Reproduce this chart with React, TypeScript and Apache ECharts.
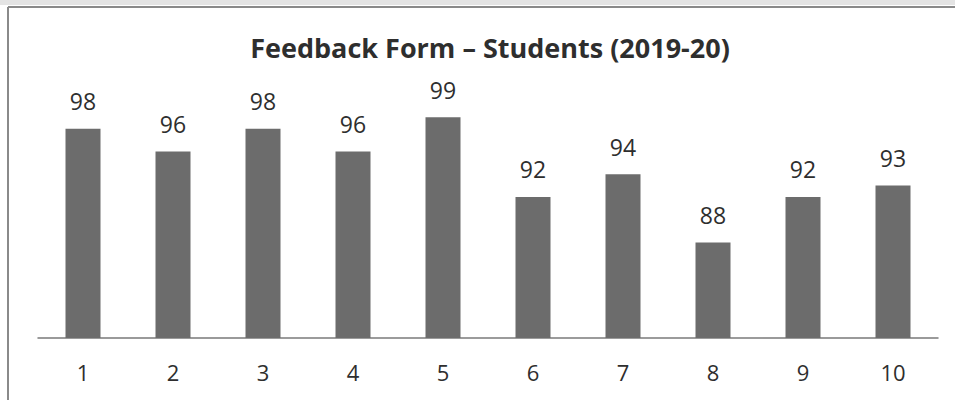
import React, { useEffect, useRef } from "react";
import * as echarts from "echarts";

const categories = ["1", "2", "3", "4", "5", "6", "7", "8", "9", "10"];
const scores = [98, 96, 98, 96, 99, 92, 94, 88, 92, 93];
const titleText = "Feedback Form \u2013 Students (2019-20)";

export default function App() {
  const ref = useRef<HTMLDivElement>(null);
  useEffect(() => {
    if (!ref.current) return;
    const chart = echarts.init(ref.current, null, { renderer: "svg" });
    chart.setOption({
      animation: false,
      backgroundColor: "#ffffff",
      title: {
        text: titleText,
        left: 485,
        textAlign: "center",
        top: 29,
        textStyle: {
          fontFamily: "Open Sans",
          fontWeight: "bold",
          fontSize: 27,
          color: "#2e2e2e",
        },
      },
      graphic: [
        { type: "rect", shape: { x: 0, y: 0, width: 955, height: 5 }, style: { fill: "#e4e4e4" } },
        { type: "line", shape: { x1: 8, y1: 7, x2: 955, y2: 7 }, style: { stroke: "#8a8a8a", lineWidth: 2 } },
        { type: "line", shape: { x1: 8, y1: 7, x2: 8, y2: 400 }, style: { stroke: "#8a8a8a", lineWidth: 2 } },
      ],
      grid: { left: 38, right: 17, top: 106, bottom: 62 },
      xAxis: {
        type: "category",
        data: categories,
        axisLine: { lineStyle: { color: "#7a7a7a", width: 1.5 } },
        axisTick: { show: false },
        axisLabel: {
          fontFamily: "Open Sans",
          fontSize: 22,
          color: "#2e2e2e",
          margin: 23,
        },
      },
      yAxis: {
        type: "value",
        min: 79.6,
        max: 100,
        show: false,
        splitLine: { show: false },
      },
      series: [
        {
          type: "bar",
          data: scores,
          barWidth: 35,
          itemStyle: { color: "#6c6c6c" },
          label: {
            show: true,
            position: "top",
            distance: 16,
            fontFamily: "Open Sans",
            fontSize: 23,
            color: "#2e2e2e",
          },
        },
      ],
    });
    return () => chart.dispose();
  }, []);
  return <div ref={ref} style={{ width: 955, height: 400, position: "absolute", left: 0, top: 0 }} />;
}
